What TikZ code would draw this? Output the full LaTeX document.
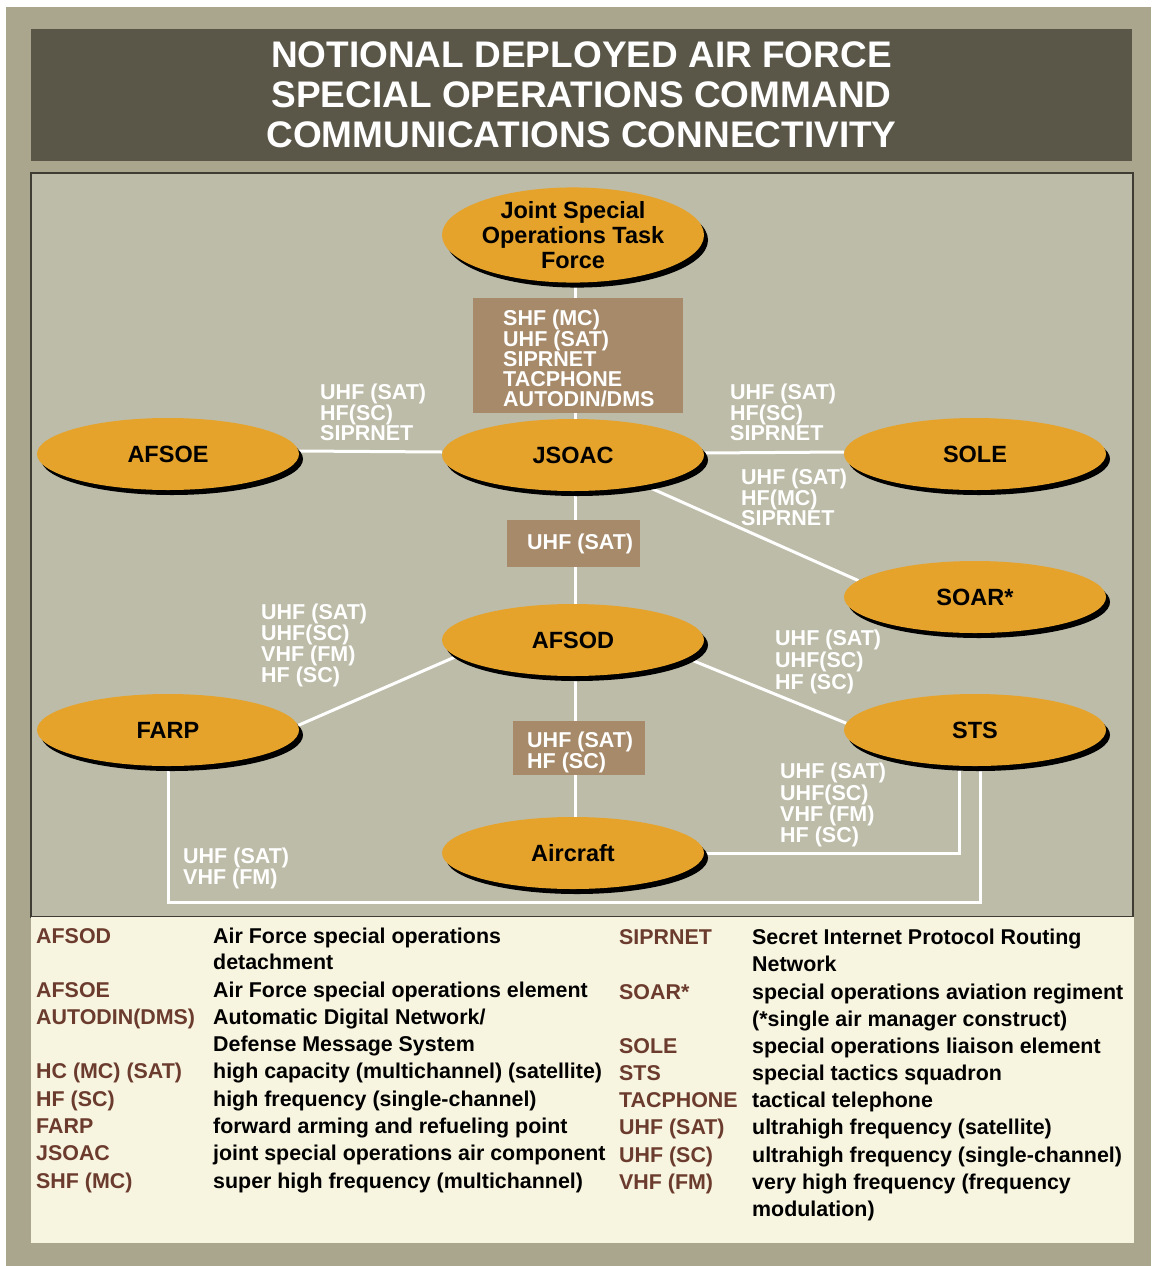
\documentclass[tikz,border=0pt]{standalone}
\usepackage{fontspec}
\usetikzlibrary{shapes.geometric}
\setmainfont{Liberation Sans}
\newfontfamily\legfont{Liberation Sans}
\definecolor{outerbg}{HTML}{A9A68D}
\definecolor{titlebg}{HTML}{5A5749}
\definecolor{panelbg}{HTML}{BDBCA8}
\definecolor{legbg}{HTML}{F7F4E0}
\definecolor{unitorange}{HTML}{E5A32C}
\definecolor{lblbox}{HTML}{A68A69}
\definecolor{abbrcol}{HTML}{6B3B2E}
\definecolor{panelline}{HTML}{3E3C33}
\pgfdeclarelayer{bglayer}
\pgfdeclarelayer{connlayer}
\pgfsetlayers{bglayer,connlayer,main}
\begin{document}
\begin{tikzpicture}[x=1pt,y=-1pt,
  unit/.style={ellipse, fill=unitorange, minimum width=262, minimum height=72, inner sep=0pt, outer sep=0pt,
    align=center, font=\bfseries\fontsize{23.5}{25}\selectfont,
    preaction={fill=black, transform canvas={xshift=4pt, yshift=-5pt}}},
  conn/.style={draw=white, line width=3pt},
  lbl/.style={anchor=north west, inner sep=0pt, align=left, text=white, font=\bfseries\fontsize{21.5}{20.3}\selectfont},
  lblrect/.style={fill=lblbox, inner sep=0pt, outer sep=0pt, anchor=north west},
  abbr/.style={anchor=base west, inner sep=0pt, text=abbrcol, font=\legfont\bfseries\fontsize{21.4}{25}\selectfont},
  desc/.style={anchor=base west, inner sep=0pt, text=black, font=\legfont\bfseries\fontsize{21.4}{25}\selectfont}
]
\useasboundingbox (0,0) rectangle (1151,1266);
\begin{pgfonlayer}{bglayer}
\fill[white] (0,0) rectangle (1151,1266);
\fill[outerbg] (6,7) rectangle (1151,1266);
\fill[titlebg] (31,29) rectangle (1132,161);
\filldraw[fill=panelbg, draw=panelline, line width=1.2pt] (31,173) rectangle (1133,917);
\fill[legbg] (31,917) rectangle (1134,1243);
\end{pgfonlayer}

% title
\node[inner sep=0pt, align=center, text=white, font=\bfseries\fontsize{37}{40}\selectfont] (title) at (581.5,94.5)
  {NOTIONAL DEPLOYED AIR FORCE\\SPECIAL OPERATIONS COMMAND\\COMMUNICATIONS CONNECTIVITY};

% units
\node[unit, minimum height=90] (jsotf) at (573,235) {Joint Special\\Operations Task\\Force};
\node[unit] (afsoe) at (168,454) {AFSOE};
\node[unit] (jsoac) at (573,455) {JSOAC};
\node[unit] (sole) at (975,454) {SOLE};
\node[unit] (soar) at (975,597) {SOAR*};
\node[unit] (afsod) at (573,640) {AFSOD};
\node[unit] (farp) at (168,730) {FARP};
\node[unit] (sts) at (975,730) {STS};
\node[unit] (aircraft) at (573,853) {Aircraft};
\coordinate (loop) at (573,902);

% connectors and label boxes
\begin{pgfonlayer}{connlayer}
\draw[conn] ([xshift=2pt]jsotf.center) -- ([xshift=2pt]jsoac.center);
\draw[conn] ([xshift=2pt]jsoac.center) -- ([xshift=2pt]afsod.center);
\draw[conn] ([xshift=2pt]afsod.center) -- ([xshift=2pt]aircraft.center);
\draw[conn] ([yshift=3pt]afsoe.east) -- ([yshift=3pt]jsoac.west);
\draw[conn] ([yshift=2pt]jsoac.east) -- ([yshift=2pt]sole.west);
\draw[conn] (jsoac.-23) -- (soar.172);
\draw[conn] (afsod.188) -- (farp.2);
\draw[conn] (afsod.-9) -- (sts.177);
\draw[conn] ([xshift=-16pt]sts.south) |- (aircraft.east);
\draw[conn] ([xshift=5pt]sts.south) |- (loop) -| (farp.south);
\node[lblrect, minimum width=210, minimum height=115] (box1) at (473,298) {};
\node[lblrect, minimum width=133, minimum height=47] (box2) at (507,520) {};
\node[lblrect, minimum width=132, minimum height=54] (box3) at (513,721) {};
\end{pgfonlayer}

% connector labels
\node[lbl] (l1) at (503,310) {SHF (MC)\\UHF (SAT)\\SIPRNET\\TACPHONE\\AUTODIN/DMS};
\node[lbl] (l2) at (320,384) {UHF (SAT)\\HF(SC)\\SIPRNET};
\node[lbl] (l3) at (730,384) {UHF (SAT)\\HF(SC)\\SIPRNET};
\node[lbl] (l4) at (741,469) {UHF (SAT)\\HF(MC)\\SIPRNET};
\node[lbl] (l5) at (527,534) {UHF (SAT)};
\node[lbl, font=\bfseries\fontsize{21.5}{21}\selectfont] (l6) at (261,604) {UHF (SAT)\\UHF(SC)\\VHF (FM)\\HF (SC)};
\node[lbl, font=\bfseries\fontsize{21.5}{21.8}\selectfont] (l7) at (775,630) {UHF (SAT)\\UHF(SC)\\HF (SC)};
\node[lbl, font=\bfseries\fontsize{21.5}{20}\selectfont] (l8) at (527,732) {UHF (SAT)\\HF (SC)};
\node[lbl, font=\bfseries\fontsize{21.5}{21.3}\selectfont] (l9) at (780,763) {UHF (SAT)\\UHF(SC)\\VHF (FM)\\HF (SC)};
\node[lbl, font=\bfseries\fontsize{21.5}{20.5}\selectfont] (l10) at (183,848) {UHF (SAT)\\VHF (FM)};

% legend, left column
\node[abbr] (a1) at (36,943.7) {AFSOD};
\node[desc] (d1) at (213,943.7) {Air Force special operations};
\node[desc] (d1b) at (213,969.7) {detachment};
\node[abbr] (a2) at (36,997.7) {AFSOE};
\node[desc] (d2) at (213,997.7) {Air Force special operations element};
\node[abbr] (a3) at (36,1024.7) {AUTODIN(DMS)};
\node[desc] (d3) at (213,1024.7) {Automatic Digital Network/};
\node[desc] (d3b) at (213,1051.7) {Defense Message System};
\node[abbr] (a4) at (36,1078.7) {HC (MC) (SAT)};
\node[desc] (d4) at (213,1078.7) {high capacity (multichannel) (satellite)};
\node[abbr] (a5) at (36,1106.7) {HF (SC)};
\node[desc] (d5) at (213,1106.7) {high frequency (single-channel)};
\node[abbr] (a6) at (36,1133.7) {FARP};
\node[desc] (d6) at (213,1133.7) {forward arming and refueling point};
\node[abbr] (a7) at (36,1160.7) {JSOAC};
\node[desc] (d7) at (213,1160.7) {joint special operations air component};
\node[abbr] (a8) at (36,1188.7) {SHF (MC)};
\node[desc] (d8) at (213,1188.7) {super high frequency (multichannel)};

% legend, right column
\node[abbr] (b1) at (619,944.7) {SIPRNET};
\node[desc] (e1) at (752,944.7) {Secret Internet Protocol Routing};
\node[desc] (e1b) at (752,971.7) {Network};
\node[abbr] (b2) at (619,999.7) {SOAR*};
\node[desc] (e2) at (752,999.7) {special operations aviation regiment};
\node[desc] (e2b) at (752,1026.7) {(*single air manager construct)};
\node[abbr] (b3) at (619,1053.7) {SOLE};
\node[desc] (e3) at (752,1053.7) {special operations liaison element};
\node[abbr] (b4) at (619,1080.7) {STS};
\node[desc] (e4) at (752,1080.7) {special tactics squadron};
\node[abbr] (b5) at (619,1107.7) {TACPHONE};
\node[desc] (e5) at (752,1107.7) {tactical telephone};
\node[abbr] (b6) at (619,1134.7) {UHF (SAT)};
\node[desc] (e6) at (752,1134.7) {ultrahigh frequency (satellite)};
\node[abbr] (b7) at (619,1162.7) {UHF (SC)};
\node[desc] (e7) at (752,1162.7) {ultrahigh frequency (single-channel)};
\node[abbr] (b8) at (619,1189.7) {VHF (FM)};
\node[desc] (e8) at (752,1189.7) {very high frequency (frequency};
\node[desc] (e8b) at (752,1216.7) {modulation)};
\end{tikzpicture}
\end{document}
